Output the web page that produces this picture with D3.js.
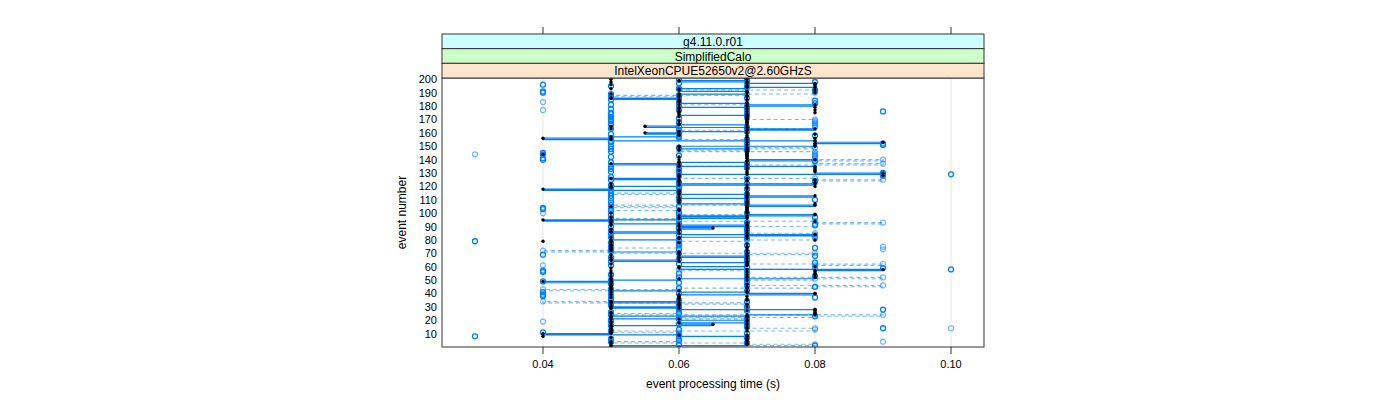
<!DOCTYPE html>
<html><head><meta charset="utf-8">
<script src="https://cdn.jsdelivr.net/npm/d3@7"></script>
<style>body{margin:0;background:#fff;} svg{display:block;font-family:"Liberation Sans",Arial,Helvetica,sans-serif;}</style>
</head><body><svg id="c" width="1400" height="400"></svg>
<script>
// ---------- data ----------
const stripLabels = ["g4.11.0.r01", "SimplifiedCalo", "IntelXeonCPUE52650v2@2.60GHzS"];
const xTicks = [0.04, 0.06, 0.08, 0.10];
const xTickLabels = ["0.04", "0.06", "0.08", "0.10"];
const yTicks = [10,20,30,40,50,60,70,80,90,100,110,120,130,140,150,160,170,180,190,200];
const xTitle = "event processing time (s)";
const yTitle = "event number";

// run A: black points, solid step line (event 1..200)
const runA = [
.05,.07,.07,.07,.07,.07,.07,.07,.06,.04,
.05,.05,.05,.05,.05,.05,.065,.06,.07,.07,
.06,.05,.05,.07,.08,.08,.08,.08,.06,.05,
.06,.06,.06,.05,.06,.06,.06,.06,.06,.08,
.07,.06,.05,.05,.05,.05,.05,.05,.04,.05,
.06,.08,.08,.08,.08,.08,.08,.09,.06,.06,
.07,.07,.07,.06,.05,.06,.06,.07,.06,.06,
.06,.05,.05,.05,.05,.05,.05,.05,.05,.05,
.06,.06,.07,.08,.06,.05,.06,.06,.065,.06,
.07,.06,.05,.05,.04,.06,.07,.06,.08,.07,
.07,.07,.07,.07,.07,.08,.07,.06,.06,.06,
.06,.07,.08,.07,.06,.06,.06,.04,.05,.05,
.06,.08,.06,.06,.06,.05,.06,.06,.06,.09,
.08,.08,.08,.08,.08,.06,.05,.06,.07,.08,
.07,.07,.07,.07,.07,.07,.07,.07,.06,.06,
.08,.08,.09,.08,.05,.04,.05,.06,.06,.055,
.06,.07,.08,.07,.055,.06,.07,.07,.07,.07,
.07,.07,.07,.06,.06,.06,.06,.06,.06,.07,
.08,.07,.06,.06,.06,.05,.06,.06,.06,.07,
.07,.06,.06,.07,.08,.08,.08,.07,.06,.07];

// run B: blue open circles (points only)
const runB = [
.08,.06,.07,.05,.06,.05,.07,.03,.06,.07,
.04,.05,.06,.09,.07,.05,.06,.07,.05,.05,
.06,.07,.08,.05,.06,.05,.07,.09,.06,.07,
.05,.06,.05,.07,.06,.05,.08,.04,.04,.06,
.04,.07,.05,.06,.08,.07,.05,.06,.04,.05,
.07,.06,.08,.05,.06,.04,.04,.10,.09,.07,
.05,.06,.08,.05,.07,.06,.05,.08,.04,.06,
.07,.05,.06,.08,.05,.07,.06,.05,.03,.06,
.07,.05,.06,.07,.05,.06,.05,.07,.06,.05,
.08,.06,.07,.05,.06,.05,.08,.06,.05,.07,
.06,.05,.04,.04,.06,.05,.07,.05,.06,.08,
.05,.06,.05,.07,.05,.06,.05,.07,.05,.06,
.05,.07,.06,.08,.05,.07,.05,.09,.10,.09,
.05,.06,.05,.07,.05,.06,.07,.05,.08,.04,
.04,.05,.06,.04,.04,.05,.07,.05,.06,.05,
.09,.09,.05,.05,.07,.05,.06,.08,.05,.06,
.07,.06,.05,.07,.06,.05,.05,.06,.05,.05,
.06,.05,.07,.05,.05,.09,.06,.05,.07,.06,
.05,.08,.06,.08,.05,.07,.05,.06,.05,.04,
.04,.08,.06,.07,.05,.04,.06,.08,.07,.06];

// run C: light blue open circles, dashed step line
const runC = [
.06,.08,.07,.05,.06,.06,.06,.06,.06,.06,
.06,.05,.08,.08,.07,.07,.07,.07,.07,.07,
.07,.06,.08,.09,.05,.06,.06,.06,.06,.06,
.06,.06,.07,.04,.05,.05,.05,.05,.05,.05,
.05,.05,.04,.06,.08,.09,.07,.07,.07,.07,
.08,.09,.07,.07,.07,.07,.07,.06,.08,.08,
.08,.09,.07,.07,.07,.07,.07,.07,.07,.08,
.05,.04,.05,.05,.06,.06,.06,.06,.06,.07,
.08,.08,.08,.08,.08,.07,.07,.07,.07,.07,
.08,.08,.09,.08,.06,.05,.06,.06,.07,.06,
.06,.06,.05,.05,.06,.05,.07,.07,.07,.07,
.07,.07,.07,.07,.05,.06,.06,.06,.06,.06,
.06,.06,.08,.08,.09,.08,.06,.06,.06,.06,
.06,.06,.06,.06,.06,.07,.09,.08,.08,.09,
.08,.08,.08,.08,.08,.08,.06,.07,.08,.07,
.07,.07,.07,.07,.07,.06,.06,.06,.06,.06,
.06,.06,.07,.08,.08,.08,.08,.08,.08,.08,
.07,.07,.07,.07,.07,.07,.07,.07,.07,.07,
.07,.06,.06,.06,.06,.06,.06,.05,.07,.08,
.08,.08,.06,.07,.07,.07,.07,.07,.07,.07];

// run D: black points only
const runD = [
.05,.07,.05,.05,.07,.07,.05,.04,.07,.05,
.05,.07,.05,.07,.07,.05,.07,.05,.05,.07,
.05,.07,.07,.08,.05,.05,.07,.08,.05,.07,
.05,.07,.05,.05,.07,.07,.05,.07,.05,.08,
.05,.07,.05,.07,.07,.05,.07,.05,.05,.07,
.05,.07,.05,.07,.05,.07,.05,.07,.05,.08,
.07,.05,.07,.07,.05,.07,.05,.07,.05,.07,
.06,.07,.05,.07,.07,.05,.07,.06,.04,.08,
.07,.05,.07,.08,.07,.05,.07,.05,.07,.07,
.05,.07,.07,.08,.05,.07,.05,.07,.08,.05,
.07,.06,.06,.07,.05,.07,.08,.07,.07,.06,
.07,.06,.07,.06,.07,.07,.06,.07,.07,.08,
.07,.05,.08,.07,.08,.07,.06,.09,.07,.07,
.07,.06,.07,.07,.06,.07,.07,.06,.07,.06,
.07,.06,.07,.04,.07,.07,.06,.07,.07,.08,
.07,.08,.07,.08,.07,.08,.07,.07,.08,.07,
.06,.07,.05,.07,.05,.07,.06,.07,.06,.07,
.07,.06,.07,.07,.08,.07,.08,.07,.08,.07,
.06,.07,.07,.06,.07,.05,.07,.07,.05,.08,
.07,.08,.05,.08,.07,.05,.07,.05,.06,.05];

// isolated light blue circles (no connecting lines)
const extraLightEvents = [4, 14, 19, 61, 73, 75, 100, 144, 177, 183];
const extraLightTimes  = [.09, .10, .04, .04, .09, .09, .04, .03, .04, .04];

// ---------- drawing ----------
const svg = d3.select("#c");
const L = 442, R = 984, T = 78, B = 347;
const x = d3.scaleLinear().domain([0.02515, 0.10485]).range([L, R]);
const y = d3.scaleLinear().domain([0, 201]).range([B, T]);
const events = d3.range(1, runA.length + 1);
const toPts = arr => arr.map((t, i) => ({e: events[i], t}));

const BLUE = "#0080ff";
const LIGHT = "rgba(0,128,255,0.55)";

svg.append("clipPath").attr("id", "clip").append("rect")
  .attr("x", L).attr("y", T).attr("width", R - L).attr("height", B - T);

const g = svg.append("g").attr("clip-path", "url(#clip)");

// grid
g.selectAll("line.grid").data(xTicks).join("line")
  .attr("x1", d => x(d)).attr("x2", d => x(d)).attr("y1", T).attr("y2", B)
  .attr("stroke", "#e6e6e6").attr("stroke-width", 1);

const stepLine = d3.line().x(d => x(d.t)).y(d => y(d.e)).curve(d3.curveStepAfter);

// dashed run C
g.append("path").attr("d", stepLine(toPts(runC)))
  .attr("fill", "none").attr("stroke", LIGHT).attr("stroke-width", 1.1)
  .attr("stroke-dasharray", "4,3");
// solid run A
g.append("path").attr("d", stepLine(toPts(runA)))
  .attr("fill", "none").attr("stroke", BLUE).attr("stroke-width", 1.2);

// blue circles
g.selectAll("circle.b").data(toPts(runB)).join("circle")
  .attr("cx", d => x(d.t)).attr("cy", d => y(d.e)).attr("r", 2.5)
  .attr("fill", "none").attr("stroke", BLUE).attr("stroke-width", 1.3);
// light circles
g.selectAll("circle.c").data(toPts(runC)).join("circle")
  .attr("cx", d => x(d.t)).attr("cy", d => y(d.e)).attr("r", 2.5)
  .attr("fill", "none").attr("stroke", LIGHT).attr("stroke-width", 1.2);
g.selectAll("circle.x").data(extraLightEvents.map((e, i) => ({e, t: extraLightTimes[i]}))).join("circle")
  .attr("cx", d => x(d.t)).attr("cy", d => y(d.e)).attr("r", 2.5)
  .attr("fill", "none").attr("stroke", LIGHT).attr("stroke-width", 1.2);
// black dots (on top)
g.selectAll("circle.a").data(toPts(runA).concat(toPts(runD))).join("circle")
  .attr("cx", d => x(d.t)).attr("cy", d => y(d.e)).attr("r", 1.7)
  .attr("fill", "#000");

// panel border
svg.append("rect").attr("x", L).attr("y", T).attr("width", R - L).attr("height", B - T)
  .attr("fill", "none").attr("stroke", "#333").attr("stroke-width", 1);

// strips
const stripColors = ["#ccffff", "#ccffcc", "#ffe5cc"];
const sh = (T - 34) / 3;
stripLabels.forEach((lab, i) => {
  const sy = 34 + i * sh;
  svg.append("rect").attr("x", L).attr("y", sy).attr("width", R - L).attr("height", sh)
    .attr("fill", stripColors[i]).attr("stroke", "#333").attr("stroke-width", 1);
  svg.append("text").attr("x", (L + R) / 2).attr("y", sy + sh / 2 + 4.5)
    .attr("text-anchor", "middle").attr("font-size", 12).attr("fill", "#000").text(lab);
});

// top ticks
svg.selectAll("line.tt").data(xTicks).join("line")
  .attr("x1", d => x(d)).attr("x2", d => x(d)).attr("y1", 27).attr("y2", 34)
  .attr("stroke", "#333");
// bottom axis
svg.selectAll("line.bt").data(xTicks).join("line")
  .attr("x1", d => x(d)).attr("x2", d => x(d)).attr("y1", B).attr("y2", B + 7)
  .attr("stroke", "#333");
svg.selectAll("text.bl").data(xTicks).join("text")
  .attr("x", d => x(d)).attr("y", B + 21).attr("text-anchor", "middle")
  .attr("font-size", 11).text((d, i) => xTickLabels[i]);
// left labels
svg.selectAll("text.yl").data(yTicks).join("text")
  .attr("x", L - 5).attr("y", d => y(d) + 4).attr("text-anchor", "end")
  .attr("font-size", 11).text(d => d);

// titles
svg.append("text").attr("x", (L + R) / 2).attr("y", 388).attr("text-anchor", "middle")
  .attr("font-size", 12).text(xTitle);
svg.append("text").attr("transform", `translate(406,${(T + B) / 2}) rotate(-90)`)
  .attr("text-anchor", "middle").attr("font-size", 12).text(yTitle);
</script>
</body></html>
